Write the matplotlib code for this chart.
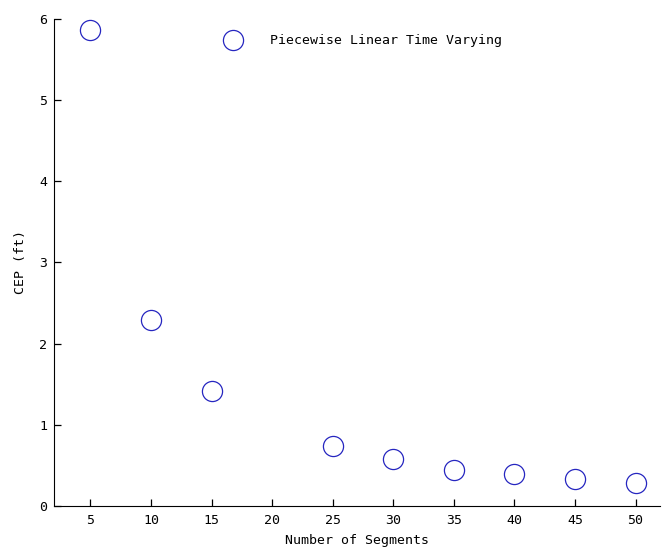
import numpy as np
import matplotlib.pyplot as plt

# data
segments = np.array([5, 10, 15, 25, 30, 35, 40, 45, 50])
cep = np.array([5.86, 2.29, 1.42, 0.74, 0.58, 0.44, 0.39, 0.33, 0.28])
xticks = [5, 10, 15, 20, 25, 30, 35, 40, 45, 50]
yticks = [0, 1, 2, 3, 4, 5, 6]

plt.rcParams['font.family'] = ['DejaVu Sans Mono']
plt.rcParams['font.size'] = 9.5

fig = plt.figure(figsize=(6.62, 5.55), dpi=100)
ax = fig.add_axes([0.0816, 0.0883, 0.915, 0.878])

ax.plot(segments, cep, 'o', ms=14.5, mfc='none', mec='#2626c0', mew=0.9,
        label='Piecewise Linear Time Varying')

ax.set_xlim(2, 52)
ax.set_ylim(0, 6)
ax.set_xticks(xticks)
ax.set_yticks(yticks)
ax.spines['top'].set_visible(False)
ax.spines['right'].set_visible(False)
ax.tick_params(direction='in', length=5, width=0.9)
ax.tick_params(axis='x', pad=6)
ax.tick_params(axis='y', pad=5)
ax.set_xlabel('Number of Segments', labelpad=5)
ax.set_ylabel('CEP (ft)', labelpad=9)

ax.legend(loc='center left', bbox_to_anchor=(0.2657, 0.955), frameon=False,
          handletextpad=1.75, borderaxespad=0, numpoints=1)

fig.savefig('out.png', dpi=100)
